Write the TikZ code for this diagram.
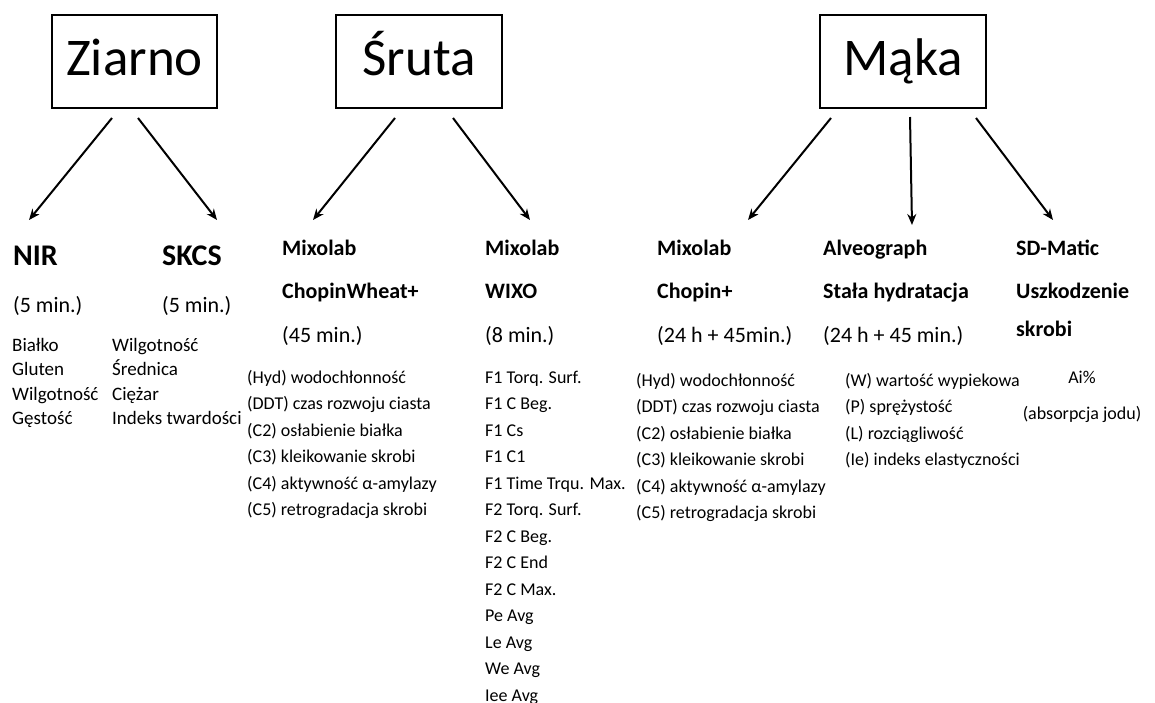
\documentclass[tikz,border=0pt]{standalone}
\usepackage{fontspec}
\setmainfont{Carlito}
\usepackage{tikz}
\usetikzlibrary{arrows.meta,calc}
\tikzstyle{stagebox} = [
    draw,
    line width=2pt,
    rectangle,
    minimum width=165pt,
    minimum height=93pt,
    inner sep=0pt,
    text height=36pt,
    text depth=9pt,
    font=\fontsize{53}{60}\selectfont
    ]
\tikzstyle{devtitle} = [
    anchor=base west,
    inner sep=0pt,
    font=\bfseries\fontsize{30}{36}\selectfont
    ]
\tikzstyle{devtime} = [
    anchor=base west,
    inner sep=0pt,
    font=\fontsize{22}{26}\selectfont
    ]
\tikzstyle{devhead} = [
    anchor=north west,
    inner sep=0pt,
    align=left,
    font=\fontsize{22}{43.5}\selectfont
    ]
\tikzstyle{paramlist} = [
    anchor=north west,
    inner sep=0pt,
    align=left,
    font=\fontsize{18}{26.5}\selectfont
    ]
\tikzstyle{link} = [
    line width=2pt,
    -{Stealth[length=11pt,width=9pt]}
    ]

\begin{document}
\begin{tikzpicture}[x=1pt,y=-1pt]
\useasboundingbox (0,0) rectangle (1155,702);

\node[stagebox] (ziarno) at (134.5,61.5) {Ziarno};
\node[stagebox, minimum width=166pt] (sruta) at (419,61.5) {Śruta};
\node[stagebox, minimum width=166pt] (maka) at (903,61.5) {Mąka};

% arrow tips
\coordinate (nirtip) at (29,220);
\coordinate (skcstip) at (217,220);
\coordinate (cwtip) at (313,220);
\coordinate (wixotip) at (530,220);
\coordinate (chopintip) at (748,220);
\coordinate (alveotip) at (912,225);
\coordinate (sdtip) at (1053,220);

\draw[link] ($(ziarno.south)+(-22.5,9)$) -- (nirtip);
\draw[link] ($(ziarno.south)+(3.5,9)$) -- (skcstip);
\draw[link] ($(sruta.south)+(-24,9)$) -- (cwtip);
\draw[link] ($(sruta.south)+(34,9)$) -- (wixotip);
\draw[link] ($(maka.south)+(-72,9)$) -- (chopintip);
\draw[link] ($(maka.south)+(7,8)$) -- (alveotip);
\draw[link] ($(maka.south)+(73,9)$) -- (sdtip);

% Ziarno
\node[devtitle] (nir) at (13,265) {NIR};
\node[devtime] (nirtime) at (13,312) {(5 min.)};
\node[paramlist, font=\fontsize{19}{24.5}\selectfont] (nirlist) at (12,334)
    {\strut Białko\\Gluten\\Wilgotność\\Gęstość};
\node[devtitle] (skcs) at (162,265) {SKCS};
\node[devtime] (skcstime) at (162,312) {(5 min.)};
\node[paramlist, font=\fontsize{19}{24.5}\selectfont] (skcslist) at (112,334)
    {\strut Wilgotność\\Średnica\\Ciężar\\Indeks twardości};

% Śruta
\node[devhead] (cwhead) at (282,224.5)
    {\strut\textbf{Mixolab}\\\textbf{ChopinWheat+}\\(45 min.)};
\node[paramlist] (cwlist) at (247,364.5)
    {\strut (Hyd) wodochłonność\\(DDT) czas rozwoju ciasta\\(C2) osłabienie białka\\
     (C3) kleikowanie skrobi\\(C4) aktywność α-amylazy\\(C5) retrogradacja skrobi};
\node[devhead] (wixohead) at (485,224.5)
    {\strut\textbf{Mixolab}\\\textbf{WIXO}\\(8 min.)};
\node[paramlist] (wixolist) at (485,364.5)
    {\strut F1 Torq. Surf.\\F1 C Beg.\\F1 Cs\\F1 C1\\F1 Time Trqu. Max.\\F2 Torq. Surf.\\
     F2 C Beg.\\F2 C End\\F2 C Max.\\Pe Avg\\Le Avg\\We Avg\\Iee Avg};

% Mąka
\node[devhead] (chopinhead) at (657,224.5)
    {\strut\textbf{Mixolab}\\\textbf{Chopin+}\\(24 h + 45min.)};
\node[paramlist] (chopinlist) at (636,367.5)
    {\strut (Hyd) wodochłonność\\(DDT) czas rozwoju ciasta\\(C2) osłabienie białka\\
     (C3) kleikowanie skrobi\\(C4) aktywność α-amylazy\\(C5) retrogradacja skrobi};
\node[devhead] (alveohead) at (823,224.5)
    {\strut\textbf{Alveograph}\\\textbf{Stała hydratacja}\\(24 h + 45 min.)};
\node[paramlist] (alveolist) at (845,367.5)
    {\strut (W) wartość wypiekowa\\(P) sprężystość\\(L) rozciągliwość\\(Ie) indeks elastyczności};
\node[devhead] (sdhead) at (1016,224.5)
    {\strut\textbf{SD-Matic}\\\textbf{Uszkodzenie}\\[-6pt]\textbf{skrobi}};
\node[paramlist, anchor=north, align=center, font=\fontsize{18}{36}\selectfont] (sdlist) at (1082,357.8)
    {\strut Ai\%\\(absorpcja jodu)};
\end{tikzpicture}
\end{document}
